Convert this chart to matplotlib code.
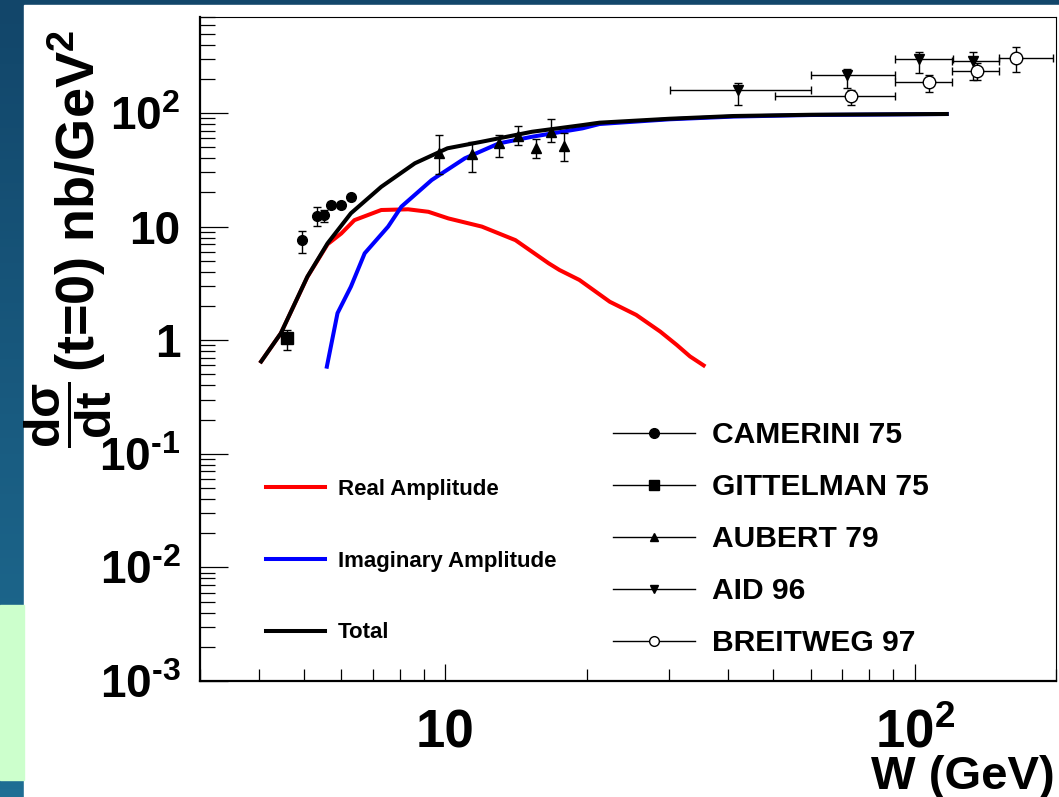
import numpy as np
import matplotlib
matplotlib.use('Agg')
import matplotlib.pyplot as plt
from matplotlib.lines import Line2D
from matplotlib.patches import Rectangle
from matplotlib.colors import LinearSegmentedColormap
from matplotlib.ticker import LogLocator, FuncFormatter, NullFormatter

plt.rcParams['font.family'] = ['Liberation Sans', 'DejaVu Sans']
plt.rcParams['font.weight'] = 'bold'
plt.rcParams['mathtext.default'] = 'regular'

# --- model curves ---
w_real = [4.05, 4.46, 5.08, 5.61, 6.0, 6.40, 7.30, 8.33, 9.2, 10.15, 11.96, 14.1,
          16.6, 17.5, 19.3, 22.4, 25.5, 28.7, 31.1, 33.2, 35.5]
ds_real = [0.65, 1.15, 3.6, 7.0, 8.7, 11.4, 14.0, 14.2, 13.5, 11.8, 10.0, 7.6,
           4.75, 4.15, 3.39, 2.18, 1.67, 1.19, 0.91, 0.72, 0.6]

w_imag = [5.59, 5.89, 6.29, 6.73, 7.55, 8.06, 9.35, 11.0, 13.0, 15.3, 19.6, 21.3,
          30.0, 41.1, 60.0, 117]
ds_imag = [0.585, 1.73, 2.96, 5.82, 10.0, 15.0, 25.7, 39.9, 54, 61.8, 73.3, 80,
           88, 93, 96, 98]

w_total = [4.05, 4.46, 5.08, 5.61, 6.29, 7.30, 8.61, 10.1, 11.96, 15.3, 19.6, 21.3,
           30.0, 41.1, 60.0, 117]
ds_total = [0.65, 1.15, 3.62, 7.13, 13.1, 22.4, 36.1, 48.9, 55.9, 68.4, 78.3, 82.2,
            89, 94.1, 96.5, 98]

# --- data sets ---
cam_w = [4.96, 5.32, 5.52, 5.70, 6.0, 6.29]
cam_y = [7.6, 12.4, 12.6, 15.5, 15.5, 18.1]
cam_lo = [1.7, 2.3, 1.6, 1.0, 1.0, 1.0]
cam_hi = [1.5, 2.6, 1.4, 1.0, 1.0, 1.0]

git_w = [4.59]
git_y = [1.05]
git_lo = [0.23]
git_hi = [0.18]

aub_w = [9.7, 11.4, 13.0, 14.3, 15.6, 16.8, 17.9]
aub_y = [44.2, 44, 54, 62.8, 48.9, 68.4, 51.5]
aub_up = [64, 56, 64, 77, 58.6, 88.5, 67]
aub_dn = [29, 30.4, 41.3, 52, 40, 56, 37.8]

aid_w = [42.1, 71.9, 102, 133]
aid_y = [159, 216, 297, 289]
aid_wlo = [30.1, 60, 90.6, 120]
aid_whi = [60.1, 90.6, 120.4, 151]
aid_dn = [118, 165, 226, 195]
aid_up = [183, 244, 343, 343]

bre_w = [73.3, 107, 136, 164]
bre_y = [142, 186, 234, 307]
bre_wlo = [50.4, 90.6, 120, 151]
bre_whi = [90.6, 120, 151, 197]
bre_dn = [118, 154, 195, 231]
bre_up = [159, 216, 274, 384]


def asym(c, lo_edge, hi_edge):
    c = np.array(c)
    return [c - np.array(lo_edge), np.array(hi_edge) - c]


fig = plt.figure(figsize=(10.59, 7.97), dpi=100)

# slide background behind the pasted plot
bg = fig.add_axes([0, 0, 1, 1], zorder=-10)
bg.axis('off')
cmap = LinearSegmentedColormap.from_list('slide', ['#12466a', '#1f6e94'])
bg.imshow(np.linspace(0, 1, 100)[:, None], cmap=cmap, aspect='auto', extent=[0, 1, 0, 1])
bg.add_patch(Rectangle((24 / 1059, 0), 1, 1 - 5 / 797, color='white'))
bg.add_patch(Rectangle((0, 1 - 780 / 797), 24 / 1059, 175 / 797, color='#ccffcc'))
bg.set_xlim(0, 1)
bg.set_ylim(0, 1)

ax = fig.add_axes([200 / 1059, 1 - 681 / 797, 856 / 1059, 664 / 797])
ax.set_xscale('log')
ax.set_yscale('log')
ax.set_xlim(3, 200)
ax.set_ylim(1e-3, 700)

ax.plot(w_real, ds_real, color='#ff0000', lw=2.9, zorder=2)
ax.plot(w_imag, ds_imag, color='#0000ff', lw=2.9, zorder=2)
ax.plot(w_total, ds_total, color='black', lw=2.9, zorder=3)

eb = dict(color='black', capsize=3, elinewidth=1, capthick=1, ls='none', zorder=4)
ax.errorbar(cam_w, cam_y, yerr=[cam_lo, cam_hi], marker='o', ms=7, **eb)
ax.errorbar(git_w, git_y, yerr=[git_lo, git_hi], marker='s', ms=8, **eb)
ax.errorbar(aub_w, aub_y, yerr=asym(aub_y, aub_dn, aub_up), marker='^', ms=7, **eb)
ax.errorbar(aid_w, aid_y, xerr=asym(aid_w, aid_wlo, aid_whi),
            yerr=asym(aid_y, aid_dn, aid_up), marker='v', ms=7, **eb)
ax.errorbar(bre_w, bre_y, xerr=asym(bre_w, bre_wlo, bre_whi),
            yerr=asym(bre_y, bre_dn, bre_up), marker='o', ms=9,
            mfc='white', mec='black', **eb)


def root_log(v, pos):
    k = int(round(np.log10(v)))
    if k == 0:
        return '1'
    if k == 1:
        return '10'
    # ROOT writes a short hyphen in the exponent
    return r'$\mathdefault{10^{%s}}$' % str(k).replace('-', '\u2010')


for axis in (ax.xaxis, ax.yaxis):
    axis.set_major_locator(LogLocator(base=10, numticks=20))
    axis.set_minor_locator(LogLocator(base=10, subs=np.arange(2, 10), numticks=20))
    axis.set_major_formatter(FuncFormatter(root_log))
    axis.set_minor_formatter(NullFormatter())

ax.tick_params(which='both', direction='in', top=False, right=False)
ax.tick_params(axis='y', which='major', length=20, width=0.9, pad=14, labelsize=33)
ax.tick_params(axis='y', which='minor', length=11, width=0.9)
ax.tick_params(axis='x', which='major', length=12, width=0.9, pad=20, labelsize=38)
ax.tick_params(axis='x', which='minor', length=9, width=0.9)
for s in ('left', 'bottom'):
    ax.spines[s].set_linewidth(1.6)
for s in ('top', 'right'):
    ax.spines[s].set_linewidth(0.8)

fig.text(1055 / 1059, 8 / 797, 'W (GeV)', ha='right', va='baseline', fontsize=34)

# y title: ROOT-style fraction followed by the rest, both rotated
fig.text(68 / 1059, 1 - 415 / 797, r'$\dfrac{d\sigma}{dt}$',
         rotation=90, ha='center', va='center', fontsize=36)
fig.text(95 / 1059, 1 - 372 / 797, '(t=0) nb/GeV$^{2}$',
         rotation=90, rotation_mode='anchor', ha='left', va='baseline', fontsize=39)

theory = [Line2D([], [], color='#ff0000', lw=2.9),
          Line2D([], [], color='#0000ff', lw=2.9),
          Line2D([], [], color='black', lw=2.9)]
leg1 = ax.legend(theory, ['Real Amplitude', 'Imaginary Amplitude', 'Total'],
                 loc='upper left', bbox_to_anchor=(0.077, 0.304), frameon=False,
                 fontsize=16, handlelength=2.66, handletextpad=0.59,
                 labelspacing=2.28, borderpad=0, borderaxespad=0)
ax.add_artist(leg1)

data_h = [Line2D([], [], color='black', lw=1, marker='o', ms=7),
          Line2D([], [], color='black', lw=1, marker='s', ms=7),
          Line2D([], [], color='black', lw=1, marker='^', ms=6),
          Line2D([], [], color='black', lw=1, marker='v', ms=6),
          Line2D([], [], color='black', lw=1, marker='o', ms=7, mfc='white')]
ax.legend(data_h, ['CAMERINI 75', 'GITTELMAN 75', 'AUBERT 79', 'AID 96', 'BREITWEG 97'],
          loc='upper left', bbox_to_anchor=(0.4825, 0.391), frameon=False,
          fontsize=21.6, handlelength=2.73, handletextpad=0.57,
          labelspacing=0.8, borderpad=0, borderaxespad=0)

fig.savefig('out.png', dpi=100)
